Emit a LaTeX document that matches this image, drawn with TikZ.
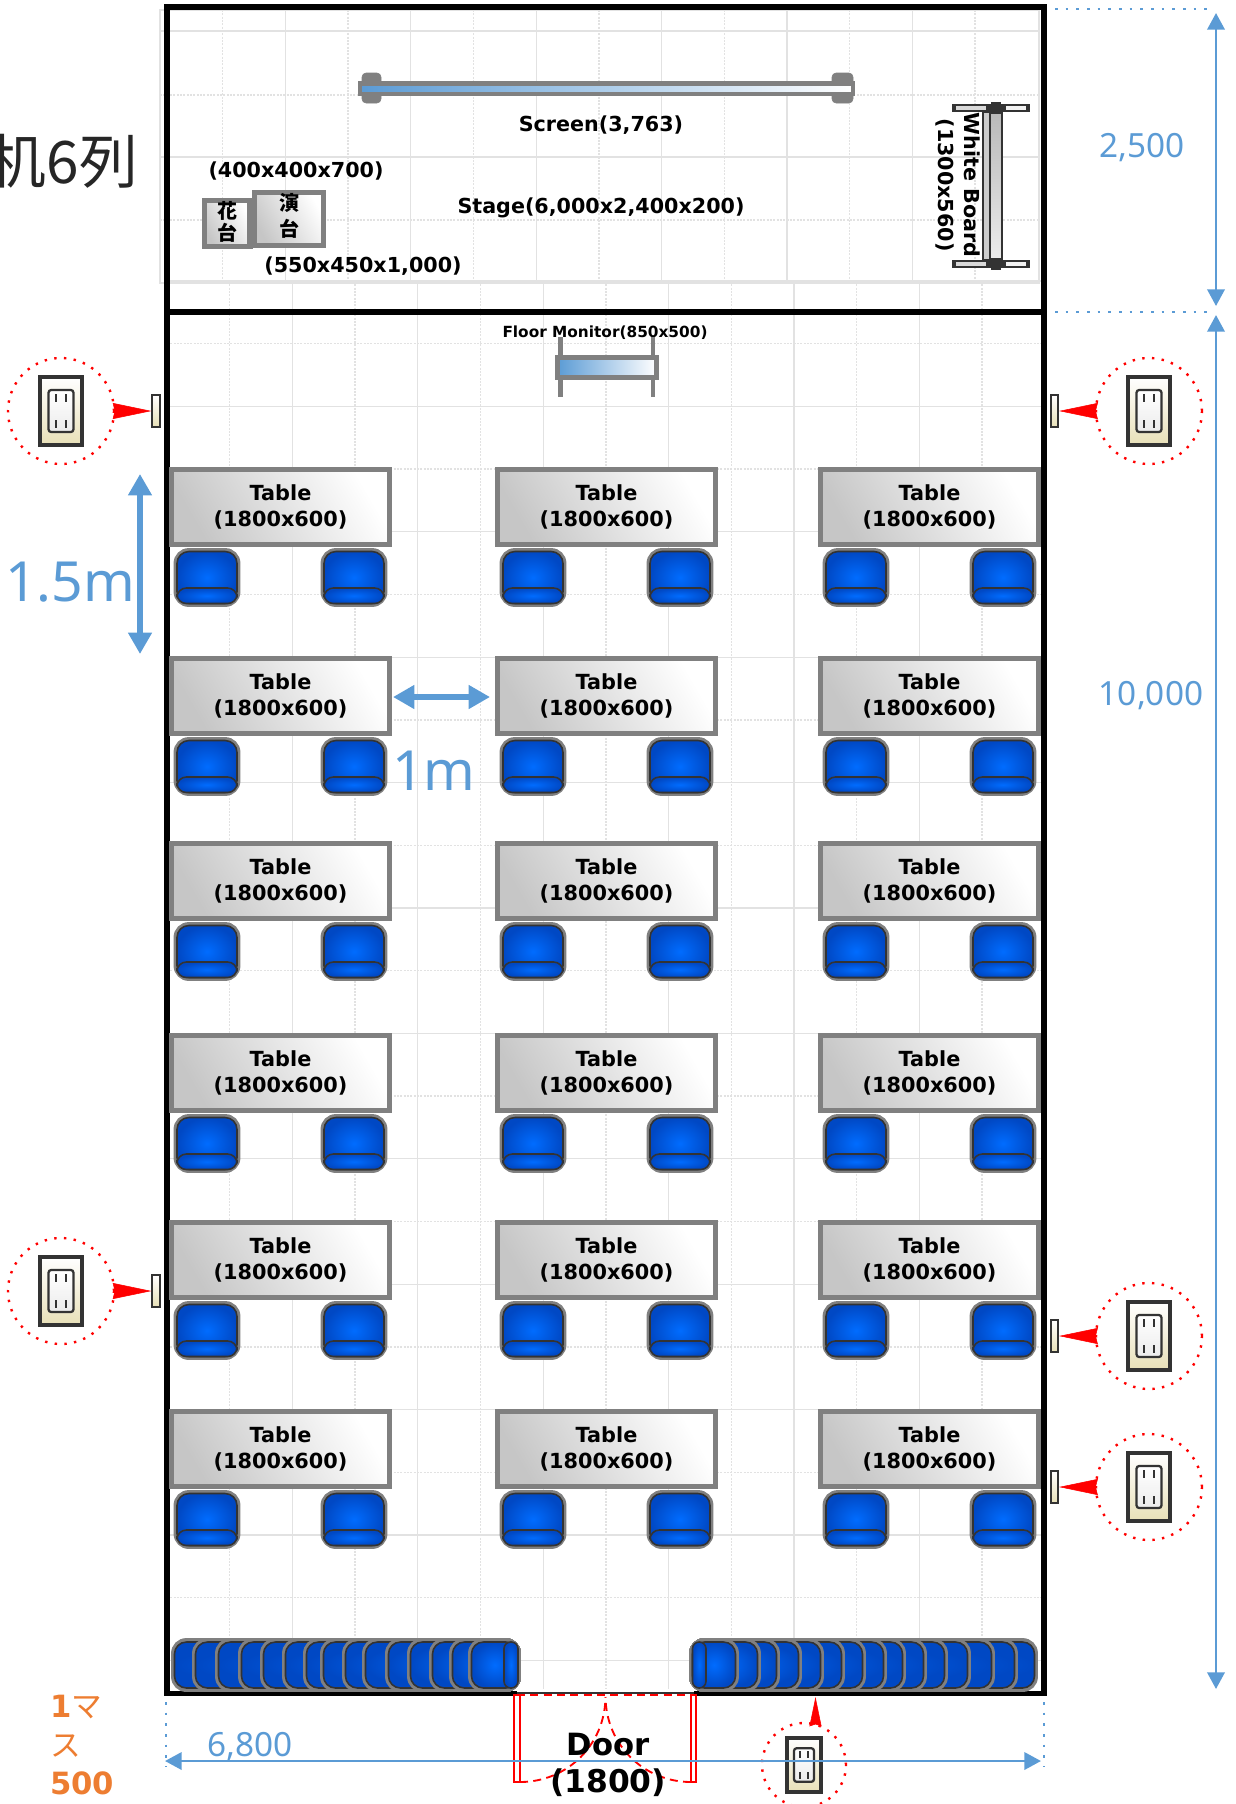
\documentclass[tikz,border=0pt]{standalone}
\usepackage{fontspec}
\setmainfont{DejaVu Sans}
\newfontfamily\cjk{Noto Sans CJK JP}
\newfontfamily\dimfont{Noto Sans}
\usetikzlibrary{arrows.meta}
\definecolor{dimblue}{HTML}{5B9BD5}
\definecolor{noteorange}{HTML}{ED7D31}
\definecolor{gridgray}{HTML}{E2E2E2}
\definecolor{rimgray}{HTML}{808080}
\definecolor{darkline}{HTML}{333333}
\definecolor{chairlit}{HTML}{006CFF}
\definecolor{chairdeep}{HTML}{0048C4}
\definecolor{cream}{HTML}{E8E0B8}
\tikzset{
	gridsolid/.style={color=gridgray,line width=.95pt},
	griddot/.style={color=gridgray,line width=.95pt,dash pattern=on 1.5pt off 1pt},
	wall/.style={color=black,line width=4.2pt},
	greybox/.style={draw=rimgray,line width=3.9pt,bottom color=gray!45,top color=white,shading angle=-60},
	tablebox/.style={greybox,minimum width=164pt,minimum height=56.5pt,inner sep=0pt,align=center,font=\fontsize{15.6}{20}\selectfont\bfseries},
	boldlabel/.style={inner sep=0pt,font=\fontsize{15.5}{18}\selectfont\bfseries},
	chairrim/.style={draw=rimgray,line width=2.9pt,rounded corners=10pt},
	chairbody/.style={draw=darkline,line width=1.2pt,rounded corners=9pt,inner color=chairlit,outer color=chairdeep},
	dimarrow/.style={color=dimblue,line width=1.9pt,{Triangle[length=12.5pt,width=13pt]}-{Triangle[length=12.5pt,width=13pt]}},
	fatarrow/.style={color=dimblue,line width=5pt,{Triangle[length=16pt,width=17pt]}-{Triangle[length=16pt,width=17pt]}},
	dimdots/.style={color=dimblue,line width=2pt,dash pattern=on 2pt off 6pt},
	dimlabel/.style={color=dimblue,inner sep=0pt,font=\fontsize{25}{30}\selectfont\dimfont},
	bigdim/.style={color=dimblue,inner sep=0pt,font=\fontsize{41.5}{48}\selectfont\dimfont},
	ringspot/.style={circle,draw=red,line width=1.8pt,dash pattern=on 1.8pt off 5.5pt,inner sep=0pt},
	wallplug/.style={draw=darkline,line width=1.4pt,top color=white,bottom color=cream,minimum width=5.5pt,minimum height=23.5pt,inner sep=0pt},
	redarrow/.style={color=red,line width=.4pt,-{Stealth[length=29pt,width=12pt,inset=1.5pt]}},
	swing/.style={color=red,line width=1.4pt,dash pattern=on 6pt off 4pt},
	chairseat/.pic={
		\draw[chairrim] (1,1) rectangle (64,56);
		\draw[chairbody] (2.5,2.5) rectangle (62.5,54.5);
		\draw[chairbody,rounded corners=7pt] (2.5,39) rectangle (62.5,54.5);
	},
	plugicon/.pic={
		\draw[draw=darkline,line width=2.8pt,top color=white,bottom color=cream] (-21,-34) rectangle (21,34);
		\draw[draw=darkline,line width=1.7pt,top color=white,bottom color=gray!15,rounded corners=2pt] (-12.5,-21) rectangle (12.5,21);
		\foreach \yy in {-13,13} {
			\draw[line width=1.3pt,color=darkline] (-5,\yy-4) -- (-5,\yy+4);
			\draw[line width=1.3pt,color=darkline] (5,\yy-4) -- (5,\yy+4);
		}
	}
}
\begin{document}
\begin{tikzpicture}[x=.75pt,y=-.75pt]
	\useasboundingbox (0,0) rectangle (1236,1804);
	% stage grid
	\draw[gridsolid] (160,10) rectangle (1039,283);
	\foreach \k in {1,...,13} {
		\pgfmathsetmacro{\gx}{160+62.7*\k}
		\ifodd\k \draw[griddot] (\gx,10) -- (\gx,283); \else \draw[gridsolid] (\gx,10) -- (\gx,283); \fi
	}
	\foreach \gy/\kind in {31/gridsolid,95/griddot,157/gridsolid,220/griddot} {
		\draw[\kind] (160,\gy) -- (1039,\gy);
	}
	% floor grid
	\draw[gridsolid] (167,281) rectangle (1046,1694);
	\foreach \k in {1,...,13} {
		\pgfmathsetmacro{\gx}{167+62.7*\k}
		\ifodd\k \draw[griddot] (\gx,281) -- (\gx,1694); \else \draw[gridsolid] (\gx,281) -- (\gx,1694); \fi
	}
	\foreach \k in {1,...,22} {
		\pgfmathsetmacro{\gy}{281+62.7*\k}
		\ifodd\k \draw[griddot] (167,\gy) -- (1046,\gy); \else \draw[gridsolid] (167,\gy) -- (1046,\gy); \fi
	}
	% walls
	\draw[wall] (167,7) rectangle (1044,1693.5);
	\draw[wall] (167,312) -- (1044,312);
	% door
	\fill[white] (517,1689) rectangle (694,1698);
	\draw[color=darkline,line width=1pt] (517,1693) -- (694,1693);
	\draw[swing] (517,1695) -- (694,1695);
	\draw[color=red,line width=1pt,fill=white] (514,1695) rectangle (520,1782);
	\draw[color=red,line width=1pt,fill=white] (691,1695) rectangle (696,1782);
	\draw[swing] (520,1782) .. controls (567,1782) and (605,1745) .. (605.5,1697);
	\draw[swing] (691,1782) .. controls (644,1782) and (606,1745) .. (605.5,1697);
	\node[inner sep=0pt,font=\fontsize{23}{28}\selectfont\bfseries] (doorname) at (608,1745) {Door};
	\node[inner sep=0pt,font=\fontsize{23.5}{28}\selectfont\bfseries] (doorsize) at (608,1783) {(1800)};
	% stage items
	\draw[color=rimgray,fill=rimgray,rounded corners=3pt] (362,73) rectangle (381,103);
	\draw[color=rimgray,fill=rimgray,rounded corners=3pt] (832,73) rectangle (853,103);
	\draw[color=rimgray,line width=3.6pt,left color=dimblue,right color=white] (360,83.5) rectangle (853,94);
	\node[boldlabel] (screenlabel) at (601,125) {Screen(3,763)};
	\node[boldlabel] (stagelabel) at (601,208) {Stage(6,000x2,400x200)};
	\node[boldlabel] (flowersize) at (296,171) {(400x400x700)};
	\node[boldlabel] (podiumsize) at (363,266) {(550x450x1,000)};
	\draw[greybox] (204.5,200.5) rectangle (250,246.5);
	\draw[greybox] (254.5,192.5) rectangle (323.5,245.5);
	\node[inner sep=0pt,align=center,font=\fontsize{15}{17}\selectfont\cjk\bfseries] (flowerstand) at (227,222) {花\\台};
	\node[inner sep=0pt,align=center,font=\fontsize{15}{20}\selectfont\cjk\bfseries] (podium) at (289,216) {演\\台};
	\draw[color=darkline,line width=1pt,fill=gray!40] (983,112) rectangle (990,260);
	\draw[color=darkline,line width=1.2pt,top color=gray!55,bottom color=gray!15] (990,113) rectangle (1002,260);
	\foreach \capy in {108,264} {
		\fill[darkline] (952,\capy-4) rectangle (1030,\capy+4);
		\fill[gray!30] (956,\capy-2) rectangle (986,\capy+2);
		\fill[gray!10] (1006,\capy-2) rectangle (1026,\capy+2);
		\fill[darkline] (991,\capy-6) rectangle (1001,\capy+6);
	}
	\node[boldlabel,rotate=-90] (boardname) at (972,185) {White Board};
	\node[boldlabel,rotate=-90] (boardsize) at (945,185) {(1300x560)};
	% floor monitor
	\node[inner sep=0pt,font=\fontsize{11.5}{14}\selectfont\bfseries] (monitorlabel) at (605,333) {Floor Monitor(850x500)};
	\draw[color=rimgray,line width=3.6pt] (560.5,337) -- (560.5,397);
	\draw[color=rimgray,line width=3.6pt] (653,337) -- (653,397);
	\draw[color=rimgray,line width=3.6pt,left color=dimblue,right color=white] (557.5,357.5) rectangle (656.5,377.5);
	% tables and chairs
	\foreach \ty [count=\r] in {467,656,841,1033,1220,1409} {
		\foreach \tx [count=\c] in {168.5,494.5,817.5} {
			\node[tablebox] (table\r\c) at (\tx+112,\ty+40) {Table\\(1800x600)};
			\pic at (\tx+6,\ty+82) {chairseat};
			\pic at (\tx+153,\ty+82) {chairseat};
		}
	}
	% chairs stacked along the back wall
	\foreach \sx in {173,194,217,240,262,284,305,322,344,364,387,409,431,451,470} {
		\draw[chairrim] (\sx,1640) rectangle (519,1690);
		\draw[chairbody] (\sx+1.5,1642) rectangle (518,1688);
	}
	\draw[chairbody,rounded corners=5pt] (504,1642) rectangle (518,1688);
	\foreach \sx in {1036,1016,993,969,946,925,904,885,864,843,822,800,778,759,737} {
		\draw[chairrim] (691,1640) rectangle (\sx,1690);
		\draw[chairbody] (692.5,1642) rectangle (\sx-1.5,1688);
	}
	\draw[chairbody,rounded corners=5pt] (692.5,1642) rectangle (706,1688);
	% outlets
	\foreach \ox/\oy/\px [count=\n] in {61/411/156,61/1291/156,1149/411/1054.5,1149/1336/1054.5,1149/1487/1054.5} {
		\node[ringspot,minimum size=79.5pt] (ring\n) at (\ox,\oy) {};
		\node[wallplug] (plug\n) at (\px,\oy) {};
		\pic at (\ox,\oy) {plugicon};
	}
	\draw[redarrow] (ring1.east) -- (plug1.west);
	\draw[redarrow] (ring2.east) -- (plug2.west);
	\draw[redarrow] (ring3.west) -- (plug3.east);
	\draw[redarrow] (ring4.west) -- (plug4.east);
	\draw[redarrow] (ring5.west) -- (plug5.east);
	\node[ringspot,minimum size=63pt] (ring6) at (804,1765) {};
	\pic[scale=.8] at (804,1765) {plugicon};
	\coordinate (wallmark) at (815.5,1697);
	\draw[redarrow,-{Stealth[length=22pt,width=9pt,inset=1.5pt]}] (ring6.north -| wallmark) -- (wallmark);
	% dimensions
	\coordinate (dimtop) at (1216,13);
	\coordinate (dimmid) at (1216,306);
	\coordinate (dimmidb) at (1216,315);
	\coordinate (dimend) at (1216,1689);
	\coordinate (dimleft) at (165,1761);
	\coordinate (dimright) at (1041,1761);
	\draw[dimdots] (1055,9) -- (1209,9);
	\draw[dimdots] (1055,312) -- (1209,312);
	\draw[dimdots] (166,1702) -- (166,1767);
	\draw[dimdots] (1044,1702) -- (1044,1767);
	\draw[dimarrow] (dimtop) -- (dimmid);
	\draw[dimarrow] (dimmidb) -- (dimend);
	\draw[dimarrow] (dimleft) -- (dimright);
	\node[dimlabel] (stagedepth) at (1142,148) {2,500};
	\node[dimlabel] (roomdepth) at (1151,696) {10,000};
	\node[dimlabel] (roomwidth) at (250,1747) {6,800};
	\coordinate (rowtop) at (140,474);
	\coordinate (rowbot) at (140,654);
	\coordinate (aisleleft) at (393,697);
	\coordinate (aisleright) at (490,697);
	\draw[fatarrow] (rowtop) -- (rowbot);
	\draw[fatarrow] (aisleleft) -- (aisleright);
	\node[bigdim] (rowgap) at (70,582) {1.5m};
	\node[bigdim] (aislegap) at (434,771) {1m};
	% notes
	\node[anchor=east,inner sep=0pt,color=black!85,font=\fontsize{44}{50}\selectfont\cjk] (title) at (138,161) {机6列};
	\node[anchor=north west,inner sep=0pt,align=left,color=noteorange,font=\fontsize{23}{29}\selectfont\bfseries] (gridnote) at (50,1695) {1{\cjk\mdseries マ}\\{\cjk\mdseries ス}\\500};
\end{tikzpicture}
\end{document}
